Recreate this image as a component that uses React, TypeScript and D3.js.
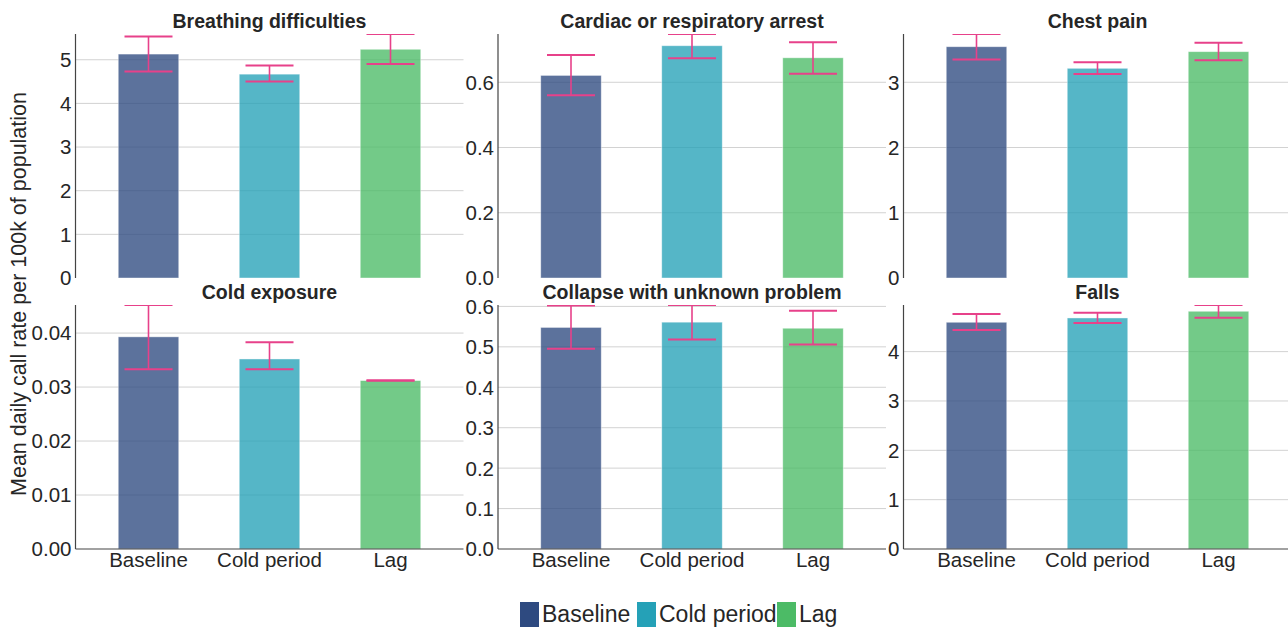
import React from "react";
import * as d3 from "d3";

// Call categories shared by every panel
const categories = ["Baseline", "Cold period", "Lag"];

// One panel per call type, in reading order
const panelTitles = [
  "Breathing difficulties",
  "Cardiac or respiratory arrest",
  "Chest pain",
  "Cold exposure",
  "Collapse with unknown problem",
  "Falls",
];

// Mean daily call rate per 100k of population
const meanRates = [
  [5.13, 4.67, 5.24],
  [0.621, 0.712, 0.675],
  [3.545, 3.214, 3.469],
  [0.0393, 0.0352, 0.0312],
  [0.548, 0.561, 0.546],
  [4.595, 4.682, 4.818],
];

// Upper and lower ends of each error bar
const upperBounds = [
  [5.53, 4.87, 5.59],
  [0.684, 0.748, 0.723],
  [3.74, 3.306, 3.607],
  [0.0452, 0.0383, 0.0312],
  [0.6025, 0.6035, 0.589],
  [4.763, 4.79, 4.945],
];
const lowerBounds = [
  [4.73, 4.5, 4.9],
  [0.56, 0.674, 0.626],
  [3.35, 3.127, 3.337],
  [0.0333, 0.0333, 0.0312],
  [0.495, 0.518, 0.506],
  [4.439, 4.581, 4.688],
];

// Y tick values and their label formats per panel
const yTickValues = [
  [0, 1, 2, 3, 4, 5],
  [0, 0.2, 0.4, 0.6],
  [0, 1, 2, 3],
  [0, 0.01, 0.02, 0.03, 0.04],
  [0, 0.1, 0.2, 0.3, 0.4, 0.5, 0.6],
  [0, 1, 2, 3, 4],
];
const yTickFormats = ["d", ".1f", "d", ".2f", ".1f", "d"];

const yAxisTitle = "Mean daily call rate per 100k of population";

const seriesColors = ["#2e4a80", "#25a1b7", "#4cbb66"];
const errorColor = "#e7418a";

// Layout
const WIDTH = 1288;
const HEIGHT = 627;
const colLeft = [75.5, 498, 903.5];
const rowTop = [34, 305];
const panelW = 388;
const panelH = 244;
const bandInset = 12.5;
const FONT = "'Liberation Sans', Arial, Helvetica, sans-serif";
const textColor = "#262626";

const legendX = [520, 637, 777];

function Panel({ index }: { index: number }) {
  const col = index % 3;
  const row = Math.floor(index / 3);
  const x0 = colLeft[col];
  const y0 = rowTop[row];
  const yMax = d3.max(upperBounds[index]) as number;

  const x = d3
    .scaleBand<string>()
    .domain(categories)
    .range([x0 + bandInset, x0 + panelW - bandInset])
    .paddingInner(0.5)
    .paddingOuter(0.25);
  const y = d3.scaleLinear().domain([0, yMax]).range([y0 + panelH, y0]);
  const fmt = d3.format(yTickFormats[index]);
  const clipId = `panel-clip-${index}`;
  const capHalf = 24;

  return (
    <g>
      <defs>
        <clipPath id={clipId}>
          <rect x={x0} y={y0} width={panelW} height={panelH} />
        </clipPath>
      </defs>
      {/* horizontal gridlines */}
      {yTickValues[index]
        .filter((t) => t > 0)
        .map((t) => (
          <line
            key={`g${t}`}
            x1={x0}
            x2={x0 + panelW}
            y1={y(t)}
            y2={y(t)}
            stroke="#d2d2d2"
            strokeWidth={1}
          />
        ))}
      {/* bars */}
      {categories.map((c, i) => (
        <rect
          key={c}
          x={x(c)}
          y={y(meanRates[index][i])}
          width={x.bandwidth()}
          height={y(0) - y(meanRates[index][i])}
          fill={seriesColors[i]}
          fillOpacity={0.78}
          stroke="#ffffff"
          strokeOpacity={0.5}
          strokeWidth={0.8}
        />
      ))}
      {/* error bars */}
      <g clipPath={`url(#${clipId})`}>
        {categories.map((c, i) => {
          const cx = (x(c) as number) + x.bandwidth() / 2;
          const yu = y(upperBounds[index][i]);
          const yl = y(lowerBounds[index][i]);
          return (
            <g key={c} stroke={errorColor}>
              <line x1={cx} x2={cx} y1={yu} y2={yl} strokeWidth={1.6} />
              <line x1={cx - capHalf} x2={cx + capHalf} y1={yu} y2={yu} strokeWidth={2} />
              <line x1={cx - capHalf} x2={cx + capHalf} y1={yl} y2={yl} strokeWidth={2} />
            </g>
          );
        })}
      </g>
      {/* y axis */}
      <line x1={x0} x2={x0} y1={y0} y2={y0 + panelH} stroke="#444" strokeWidth={1.2} />
      {yTickValues[index].map((t) => (
        <text
          key={`t${t}`}
          x={x0 - 4}
          y={y(t)}
          dy="0.36em"
          textAnchor="end"
          fontSize={20.5}
          fontFamily={FONT}
          fill={textColor}
        >
          {fmt(t)}
        </text>
      ))}
      {/* x axis on the bottom row */}
      {row === 1 && (
        <>
          <line
            x1={x0}
            x2={x0 + panelW}
            y1={y0 + panelH}
            y2={y0 + panelH}
            stroke="#444"
            strokeWidth={1.2}
          />
          {categories.map((c) => (
            <text
              key={`x${c}`}
              x={(x(c) as number) + x.bandwidth() / 2}
              y={y0 + panelH + 18}
              textAnchor="middle"
              fontSize={20.5}
              fontFamily={FONT}
              fill={textColor}
            >
              {c}
            </text>
          ))}
        </>
      )}
      {/* panel title */}
      <text
        x={x0 + panelW / 2}
        y={y0 - 6}
        textAnchor="middle"
        fontSize={19.5}
        fontWeight="bold"
        fontFamily={FONT}
        fill={textColor}
      >
        {panelTitles[index]}
      </text>
    </g>
  );
}

export default function App() {
  return (
    <svg
      width={WIDTH}
      height={HEIGHT}
      style={{ position: "absolute", left: 0, top: 0, background: "#fff" }}
    >
      <rect width={WIDTH} height={HEIGHT} fill="#fff" />
      {panelTitles.map((_, i) => (
        <Panel key={i} index={i} />
      ))}
      <text
        transform={`translate(26, 294) rotate(-90)`}
        textAnchor="middle"
        fontSize={21.5}
        fontFamily={FONT}
        fill={textColor}
      >
        {yAxisTitle}
      </text>
      {/* legend */}
      {categories.map((c, i) => (
        <g key={`lg${c}`}>
          <rect x={legendX[i]} y={602} width={19} height={26} fill={seriesColors[i]} />
          <text
            x={legendX[i] + 22}
            y={622}
            fontSize={23}
            fontFamily={FONT}
            fill={textColor}
          >
            {c}
          </text>
        </g>
      ))}
    </svg>
  );
}
